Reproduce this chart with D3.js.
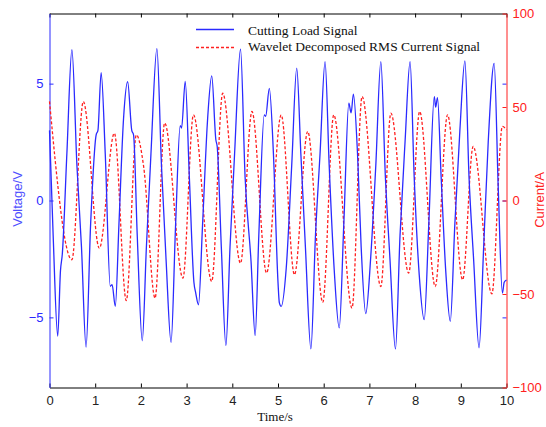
<!DOCTYPE html>
<html>
<head>
<meta charset="utf-8">
<script src="https://cdn.jsdelivr.net/npm/d3@7"></script>
<style>
  body { margin: 0; background: #fff; }
  svg { display: block; }
  .tick text { font-family: "Liberation Sans", Arial, sans-serif; font-size: 13px; }
</style>
</head>
<body>
<div id="chart"></div>
<script>
// cutting load signal (voltage, left axis)
var loadT = [0, 0.08, 0.18, 0.24, 0.28, 0.38, 0.49, 0.6, 0.7, 0.8, 0.9, 1.02, 1.06, 1.13, 1.22, 1.33, 1.37, 1.44,
  1.52, 1.62, 1.71, 1.8, 1.84, 1.92, 2.03, 2.12, 2.22, 2.35, 2.45, 2.55, 2.66, 2.76, 2.86, 2.89, 2.97, 3.06, 3.16,
  3.2, 3.26, 3.35, 3.46, 3.55, 3.64, 3.67, 3.76, 3.86, 3.95, 4.05, 4.18, 4.28, 4.41, 4.5, 4.58, 4.7, 4.73, 4.81,
  4.9, 5.0, 5.03, 5.07, 5.18, 5.3, 5.41, 5.5, 5.6, 5.72, 5.82, 5.92, 6.03, 6.12, 6.23, 6.34, 6.44, 6.55, 6.6, 6.65,
  6.74, 6.82, 6.92, 7.03, 7.14, 7.25, 7.35, 7.45, 7.57, 7.67, 7.78, 7.89, 7.98, 8.09, 8.2, 8.3, 8.42, 8.45, 8.49,
  8.57, 8.67, 8.77, 8.87, 8.98, 9.09, 9.18, 9.28, 9.4, 9.5, 9.6, 9.73, 9.82, 9.91, 9.95, 10];
var loadV = [3.0, -1.5, -5.8, -3.0, -2.3, 2.0, 6.45, 1.5, -2.0, -6.27, -1.0, 2.8, 3.0, 5.47, 2.0, -3.67, -3.6, -4.53,
  -1.0, 3.5, 5.08, 3.0, 2.8, -1.5, -6.0, -2.0, 2.0, 6.5, 1.5, -2.5, -6.07, -1.0, 3.2, 3.1, 5.1, 1.0, -3.5,
  -3.96, -4.46, -1.0, 3.5, 5.33, 2.6, 2.3, -2.0, -6.21, -2.0, 2.0, 6.47, 1.0, -2.6, -5.78, -1.5, 3.66, 3.6, 4.8,
  2.0, -3.5, -4.38, -4.53, -2.9, 1.5, 5.66, 2.0, -2.0, -6.35, -1.5, 2.0, 5.94, 1.5, -2.96, -5.45, -1.0, 4.16, 3.75, 4.55,
  2.0, -2.0, -4.84, -2.39, 1.5, 5.94, 1.0, -2.5, -6.35, -1.5, 2.5, 5.94, 1.0, -3.17, -5.1, -1.0, 4.44, 4.0, 4.4,
  1.0, -3.0, -5.17, -1.0, 3.0, 5.97, 1.0, -2.5, -6.3, -2.0, 2.5, 5.87, 0.5, -3.96, -3.5, -3.4];

// wavelet decomposed RMS current (right axis)
var currT = [0, 0.49, 0.74, 1.09, 1.42, 1.68, 1.9, 2.06, 2.31, 2.52, 2.92, 3.15, 3.55, 3.79, 4.18, 4.43, 4.75,
  5.07, 5.36, 5.65, 5.98, 6.22, 6.62, 6.84, 7.25, 7.47, 7.86, 8.1, 8.44, 8.71, 9.04, 9.27, 9.68, 9.91, 10];
var currA = [53, -31.7, 52.9, -25.5, 36, -53.5, 35.1, 18.2, -52.2, 41.4, -41.5, 45.8, -43.3, 57.4, -33.5, 47.6, -38.8,
  45.8, -39.7, 36.9, -54.5, 45.8, -57.5, 55.6, -46, 46.7, -38.8, 47.6, -46, 45.8, -42.4, 28.9, -49.9, 39.6, 37.8];

var xTicks = [0, 1, 2, 3, 4, 5, 6, 7, 8, 9, 10];
var voltTicks = [-5, 0, 5];
var currTicks = [-100, -50, 0, 50, 100];
var legendNames = ["Cutting Load Signal", "Wavelet Decomposed RMS Current Signal"];

var width = 546, height = 427;
var margin = {top: 13.5, right: 39.5, bottom: 39.5, left: 49.5};
var blue = "#2a2aff", red = "#ff2020";
var sans = "'Liberation Sans', Arial, sans-serif";
var serif = "'Liberation Serif', 'Times New Roman', serif";

var svg = d3.select("#chart").append("svg")
  .attr("width", width)
  .attr("height", height);

var x = d3.scaleLinear().domain([0, 10]).range([margin.left, width - margin.right]);
var yV = d3.scaleLinear().domain([-8, 8]).range([height - margin.bottom, margin.top]);
var yC = d3.scaleLinear().domain([-100, 100]).range([height - margin.bottom, margin.top]);

// axes, ticks point inward like matlab
var gx = svg.append("g")
  .attr("transform", "translate(0," + (height - margin.bottom) + ")")
  .call(d3.axisBottom(x).tickValues(xTicks).tickSize(-4).tickPadding(8).tickSizeOuter(0));
gx.selectAll("text").attr("fill", "#222");

svg.append("g")
  .attr("transform", "translate(0," + margin.top + ")")
  .call(d3.axisTop(x).tickValues(xTicks).tickSize(-4).tickFormat("").tickSizeOuter(0));

var gl = svg.append("g")
  .attr("transform", "translate(" + margin.left + ",0)")
  .call(d3.axisLeft(yV).tickValues(voltTicks).tickSize(-4).tickPadding(6).tickSizeOuter(0));
gl.select(".domain").attr("stroke", blue);
gl.selectAll("line").attr("stroke", blue);
gl.selectAll("text").attr("fill", blue);

// left ticks mirrored on the right side
svg.append("g")
  .attr("transform", "translate(" + (width - margin.right) + ",0)")
  .call(d3.axisRight(yV).tickValues(voltTicks).tickSize(-4).tickFormat("").tickSizeOuter(0))
  .call(function(g) { g.select(".domain").remove(); g.selectAll("line").attr("stroke", blue); });

var gr = svg.append("g")
  .attr("transform", "translate(" + (width - margin.right) + ",0)")
  .call(d3.axisRight(yC).tickValues(currTicks).tickSize(-4).tickPadding(6).tickSizeOuter(0));
gr.select(".domain").attr("stroke", red);
gr.selectAll("line").attr("stroke", red);
gr.selectAll("text").attr("fill", red);

// series
var loadData = loadT.map(function(t, i) { return [t, loadV[i]]; });
var currData = currT.map(function(t, i) { return [t, currA[i]]; });

svg.append("path")
  .datum(currData)
  .attr("fill", "none")
  .attr("stroke", red)
  .attr("stroke-width", 1.3)
  .attr("stroke-dasharray", "3,2")
  .attr("d", d3.line().x(function(d) { return x(d[0]); }).y(function(d) { return yC(d[1]); })
    .curve(d3.curveMonotoneX));

svg.append("path")
  .datum(loadData)
  .attr("fill", "none")
  .attr("stroke", blue)
  .attr("stroke-width", 1.3)
  .attr("d", d3.line().x(function(d) { return x(d[0]); }).y(function(d) { return yV(d[1]); })
    .curve(d3.curveMonotoneX));

// legend
var lg = svg.append("g").attr("transform", "translate(196,0)");
lg.append("line").attr("x1", 0).attr("x2", 38).attr("y1", 29.5).attr("y2", 29.5)
  .attr("stroke", blue).attr("stroke-width", 1.3);
lg.append("line").attr("x1", 0).attr("x2", 38).attr("y1", 47.5).attr("y2", 47.5)
  .attr("stroke", red).attr("stroke-width", 1.3).attr("stroke-dasharray", "3,2");
lg.selectAll("text.leg")
  .data(legendNames)
  .enter().append("text")
  .attr("class", "leg")
  .attr("x", 52)
  .attr("y", function(d, i) { return 34.5 + i * 16; })
  .attr("font-family", serif)
  .attr("font-size", 13.5)
  .attr("fill", "#111")
  .text(function(d) { return d; });

// axis titles
svg.append("text")
  .attr("x", 275).attr("y", 421)
  .attr("text-anchor", "middle")
  .attr("font-family", serif)
  .attr("font-size", 13)
  .attr("fill", "#111")
  .text("Time/s");

svg.append("text")
  .attr("transform", "translate(22,199) rotate(-90)")
  .attr("text-anchor", "middle")
  .attr("font-family", sans)
  .attr("font-size", 13)
  .attr("fill", "#5050ff")
  .text("Voltage/V");

svg.append("text")
  .attr("transform", "translate(544,200) rotate(-90)")
  .attr("text-anchor", "middle")
  .attr("font-family", sans)
  .attr("font-size", 13)
  .attr("fill", red)
  .text("Current/A");
</script>
</body>
</html>
